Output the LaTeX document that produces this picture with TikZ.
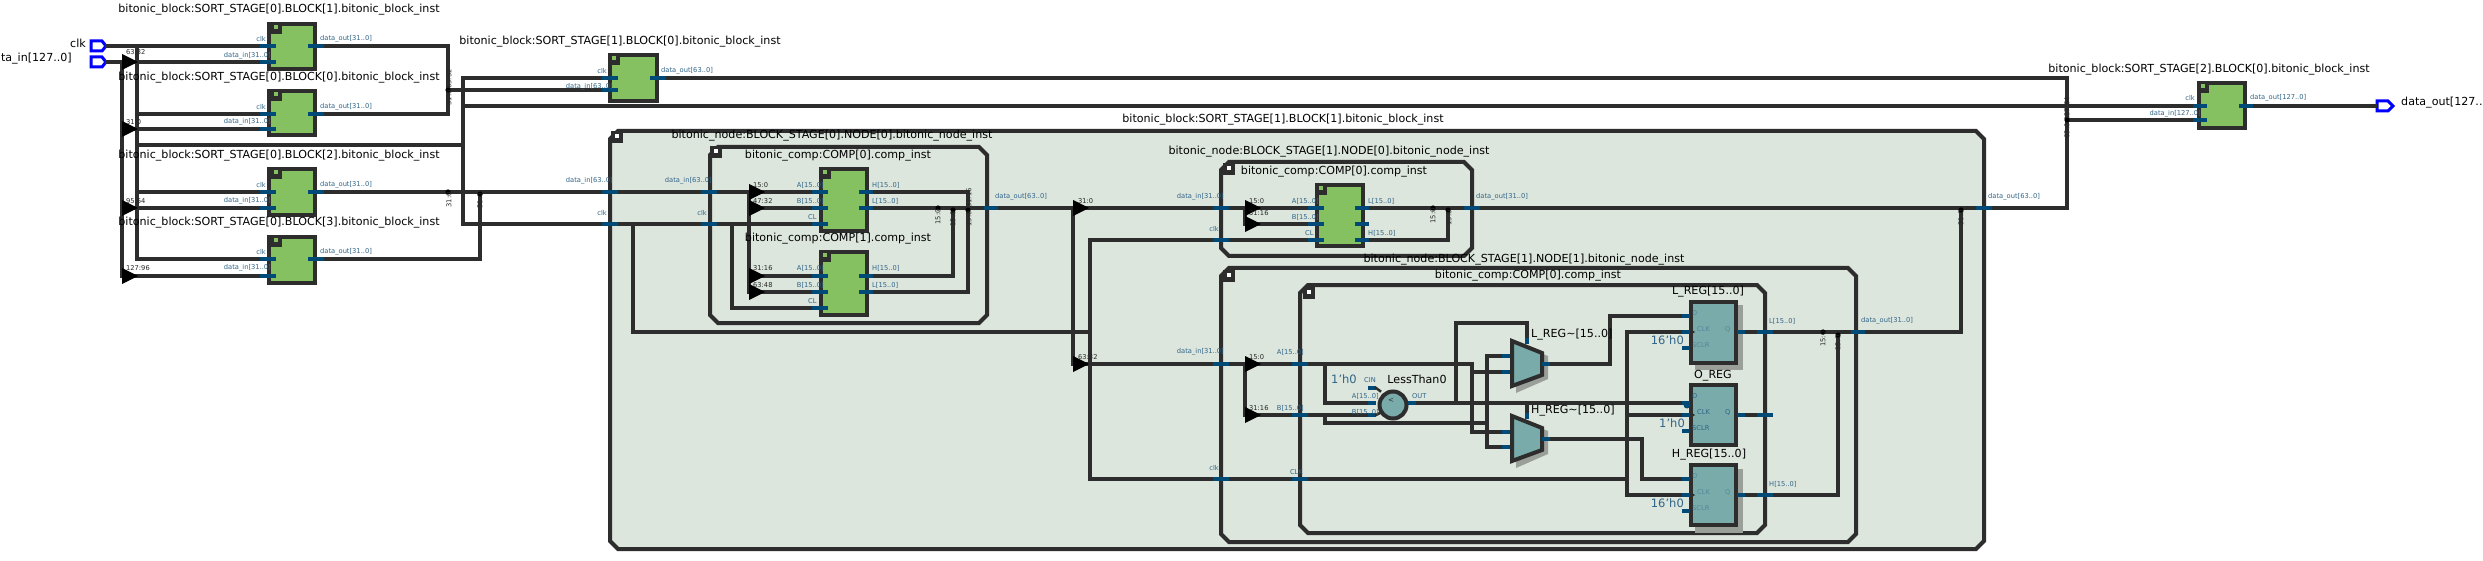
\documentclass[tikz,border=0pt]{standalone}
\usepackage{fontspec}
\setmainfont{DejaVu Sans}
\usetikzlibrary{calc}
\definecolor{wirec}{HTML}{2D2D2D}
\definecolor{stubc}{HTML}{004A77}
\definecolor{labc}{HTML}{2F6487}
\definecolor{greenc}{HTML}{85C160}
\definecolor{tealc}{HTML}{79ABAB}
\definecolor{panelc}{HTML}{DDE6DD}
\definecolor{shadowc}{HTML}{9A9F9A}
\tikzset{
  wire/.style={draw=wirec,line width=4pt,line join=miter,line cap=rect},
  frame/.style={draw=wirec,line width=4pt,line join=miter},
  portstub/.style={draw=stubc,line width=4pt},
  blockbox/.style={draw=wirec,line width=4pt,fill=greenc},
  regbox/.style={draw=wirec,line width=4pt,fill=tealc},
  pinshape/.style={draw=blue,fill=white,line width=3pt,line join=miter},
  tfont/.style={font=\fontsize{11.1}{13}\selectfont,text=black,inner sep=0pt},
  plab/.style={font=\fontsize{6.7}{8}\selectfont,text=labc,inner sep=0pt},
  klab/.style={font=\fontsize{11.5}{13}\selectfont,text=labc,inner sep=0pt},
  nlab/.style={font=\fontsize{6.7}{8}\selectfont,text=black!85,inner sep=0pt},
  rlab/.style={nlab,rotate=90},
}
\newcount\labn
\newcommand\lab[4]{\global\advance\labn by 1 \node[#1] (lab\the\labn) at (#2,#3) {#4};}
\newcommand\icon[3]{\fill[wirec] (#1,#2) rectangle ++(12,12);\fill[#3] (#1+4,#2+3) rectangle ++(4,4);}
\newcommand\panel[6]{\draw[frame,fill=#1] (#2+#6,#3) -- (#4-#6,#3) -- (#4,#3+#6) -- (#4,#5-#6) -- (#4-#6,#5) -- (#2+#6,#5) -- (#2,#5-#6) -- (#2,#3+#6) -- cycle;}
\newcommand\blk[5]{\node[#1,outer sep=0pt,minimum width=#4-#2,minimum height=#5-#3,inner sep=0pt,anchor=north west] (box#2x#3) at (#2,#3) {};}
\newcommand\hs[2]{\draw[portstub] (#1) ++(-#2,0) -- ++(2*#2,0);}
\newcommand\tri[1]{\fill[black] (#1) ++(0,-8) -- ++(16,8) -- ++(-16,8) -- cycle;}
\newcommand\dotj[1]{\fill[black] (#1) circle (2.6);}
\newcommand\ck[1]{\fill[wirec] (#1) ++(3,-4) -- ++(6,4) -- ++(-6,4) -- cycle;}
\begin{document}
\begin{tikzpicture}[x=1pt,y=-1pt]
\useasboundingbox (0,0) rectangle (2483,561);
\fill[white] (0,0) rectangle (2483,561);
% ---------- named points ----------
\foreach \n/\x/\y in {
 clkpin/107/46,datapin/107/62,
 bAclk/268/46,bAin/268/62,bAout/316/46,
 bBclk/268/114,bBin/268/129,bBout/316/114,
 bCclk/268/192,bCin/268/208,bCout/316/192,
 bDclk/268/259,bDin/268/276,bDout/316/259,
 sAclk/610/78,sAin/610/90,sAout/658/78,
 ndin/610/192,ndclk/610/224,ndout/1984/208,
 nAin/709/192,nAclk/709/224,nAout/991/208,
 cAa/820/192,cAb/820/208,cAc/820/224,cAh/866/192,cAl/866/208,
 cBa/820/276,cBb/820/292,cBc/820/308,cBh/866/276,cBl/866/292,
 nBin/1221/208,nBclk/1221/240,nBout/1472/208,
 cCa/1316/208,cCb/1316/224,cCc/1316/240,cCl/1362/208,cCm/1362/224,cCh/1362/240,
 nCin/1221/364,nCclk/1221/479,nCout/1858/332,
 cma/1300/364,cmb/1300/415,cmc/1300/479,cml/1765/332,cmq/1765/415,cmh/1765/495,
 ltcin/1372/388,lta/1372/403,ltb/1372/415,ltout/1412/403,
 mlz/1506/356,mlo/1506/372,mls/1527/341,mlq/1546/364,
 mhz/1506/432,mho/1506/447,mhs/1527/416,mhq/1546/439,
 ld/1686/316,lc/1686/332,ls/1686/348,lq/1741/332,
 od/1686/403,oc/1686/415,os/1686/431,oq/1741/415,
 hd/1686/479,hc/1686/495,hs/1686/511,hq/1741/495,
 sBclk/2200/106,sBin/2200/120,sBout/2246/106,outpin/2375/106,
 jA/448/90,jB/448/192,jC/480/194,jD/2067/120,
 jE/938/208,jF/953/210,jG/968/210,
 jH/1433/208,jI/1448/210,jJ/1823/332,jK/1838/335,jL/1961/210,
 clkbus/137/145,databus/122/62,clkmid/463/145,
 triAa/749/192,triAb/749/208,triAc/749/276,triAd/749/292,
 clkN/732/308,clkW/633/332,clkE/1090/332,
 triO/1073/208,triP/1073/364,
 triQ/1245/208,triR/1245/224,triS/1245/364,triT/1245/415,
 tapA/1325/364,tapB/1325/423,muxA/1472/372,muxB/1487/423,
 ltsel/1456/323,selT/1527/323,selB/1527/403,lqc/1610/316,hqc/1642/479,
 clkV/1627/479}
 {\coordinate (\n) at (\x,\y);}
% ---------- containers ----------
\panel{panelc}{610}{131}{1984}{549}{8}
\panel{none}{710}{147}{987}{323}{8}
\panel{none}{1221}{162}{1472}{256}{8}
\panel{none}{1221}{268}{1856}{542}{8}
\panel{none}{1300}{285}{1765}{533}{8}
\icon{611}{131}{white}\icon{710}{146}{white}\icon{1223}{163}{white}\icon{1223}{270}{white}\icon{1303}{287}{white}
% ---------- green blocks ----------
\blk{blockbox}{269}{24}{315}{69}
\blk{blockbox}{269}{91}{315}{135}
\blk{blockbox}{269}{169}{315}{215}
\blk{blockbox}{269}{237}{315}{283}
\blk{blockbox}{610}{55}{657}{101}
\blk{blockbox}{821}{169}{867}{231}
\blk{blockbox}{821}{252}{867}{315}
\blk{blockbox}{1317}{185}{1363}{246}
\blk{blockbox}{2199}{83}{2245}{128}
\icon{270}{22}{greenc}\icon{270}{89}{greenc}\icon{270}{167}{greenc}\icon{270}{235}{greenc}
\icon{608}{53}{greenc}\icon{819}{167}{greenc}\icon{819}{250}{greenc}\icon{1315}{183}{greenc}\icon{2197}{81}{greenc}
% ---------- registers ----------
\fill[shadowc] (1695,305) rectangle (1743,370);
\fill[shadowc] (1695,469) rectangle (1743,533);
\blk{regbox}{1691}{302}{1736}{363}
\blk{regbox}{1691}{385}{1736}{445}
\blk{regbox}{1691}{465}{1736}{525}
% ---------- muxes ----------
\fill[shadowc] (1516,343) -- (1548,356) -- (1548,379) -- (1516,393) -- cycle;
\fill[shadowc] (1516,418) -- (1548,431) -- (1548,454) -- (1516,468) -- cycle;
\draw[regbox,line join=miter] (1512,341) -- (1542,353) -- (1542,375) -- (1512,386) -- cycle;
\draw[regbox,line join=miter] (1512,416) -- (1542,428) -- (1542,450) -- (1512,461) -- cycle;
% ---------- comparator ----------
\node[circle,draw=wirec,line width=4pt,fill=tealc,minimum size=27pt,inner sep=0pt] (lessthan) at (1393,405) {};
\lab{font=\fontsize{7}{8}\selectfont,text=wirec,inner sep=0pt}{1391}{400}{<}
% ---------- pins ----------
\draw[pinshape] (91,41) -- (102,41) -- (106,46) -- (102,51) -- (91,51) -- cycle;
\draw[pinshape] (91,57) -- (102,57) -- (106,62) -- (102,67) -- (91,67) -- cycle;
\draw[pinshape] (2377,101) -- (2388,101) -- (2393,106) -- (2388,111) -- (2377,111) -- cycle;
% ---------- wires: top level ----------
\draw[wire] (clkpin) -- (bAclk);
\draw[wire] (clkbus |- bAclk) -- (clkbus |- bDclk) -- (bDclk);
\draw[wire] (clkbus |- bBclk) -- (bBclk);
\draw[wire] (clkbus |- bCclk) -- (bCclk);
\draw[wire] (clkbus) -- (clkmid);
\draw[wire] (clkmid |- sAclk) -- (clkmid |- ndclk);
\draw[wire] (clkmid |- sAclk) -- (sAclk);
\draw[wire] (clkmid |- sBclk) -- (sBclk);
\draw[wire] (clkmid |- ndclk) -- (cAc);
\draw[wire] (datapin) -- (bAin);
\draw[wire] (databus) -- (databus |- bDin);
\draw[wire] (databus |- bBin) -- (bBin);
\draw[wire] (databus |- bCin) -- (bCin);
\draw[wire] (databus |- bDin) -- (bDin);
\draw[wire] (bAout) -| (jA);
\draw[wire] (bBout) -| (jA);
\draw[wire] (jA) -- (sAin);
\draw[wire] (bCout) -- (cAa);
\draw[wire] (bDout) -| (jC);
\draw[wire] (sAout) -| (jD);
\draw[wire] (ndout) -| (jD);
\draw[wire] (jD) -- (sBin);
\draw[wire] (sBout) -- (outpin);
% ---------- wires: node 0 ----------
\draw[wire] (triAa) -- (triAd) -- (cBb);
\draw[wire] (triAb) -- (cAb);
\draw[wire] (triAc) -- (cBa);
\draw[wire] (clkN |- ndclk) -- (clkN) -- (cBc);
\draw[wire] (clkW |- ndclk) -- (clkW) -- (clkE);
\draw[wire] (cAh) -| (jG);
\draw[wire] (cAl) -- (cCa);
\draw[wire] (cBh) -| (jF);
\draw[wire] (cBl) -| (jG);
% ---------- wires: node 1 ----------
\draw[wire] (triO) -- (triP) -- (cma);
\draw[wire] (triQ) -- (triR) -- (cCb);
\draw[wire] (clkE |- nBclk) -- (cCc);
\draw[wire] (clkE |- nBclk) -- (clkE |- nCclk) -- (clkV);
\draw[wire] (cCl) -- (ndout);
\draw[wire] (cCh) -| (jI);
% ---------- wires: node 2 ----------
\draw[wire] (triS) -- (triT) -- (ltb);
\draw[wire] (tapA) -- (tapA |- lta) -- (lta);
\draw[wire] (tapA |- ltb) -- (tapB) -- (muxB);
\draw[wire] (cma) -| (muxA) -- (mlo);
\draw[wire] (muxA) -- (muxA |- mhz) -- (mhz);
\draw[wire] (muxB |- mlz) -- (muxB |- mho) -- (mho);
\draw[wire] (muxB |- mlz) -- (mlz);
\draw[wire] (ltout) -- (od);
\draw[wire] (ltsel |- ltout) -- (ltsel) -- (selT) -- (mls);
\draw[wire] (selB) -- (mhs);
\draw[wire] (mlq) -| (lqc) -- (ld);
\draw[wire] (mhq) -| (hqc) -- (hd);
\draw[wire] (clkV |- lc) -- (clkV |- hc) -- (hc);
\draw[wire] (clkV |- lc) -- (lc);
\draw[wire] (clkV |- oc) -- (oc);
\draw[wire] (lq) -- (jL |- lq) -- (jL);
\draw[wire] (oq) -- (cmq);
\draw[wire] (hq) -| (jK);
% ---------- triangles and joints ----------
\tri{databus}\tri{databus |- bBin}\tri{databus |- bCin}\tri{databus |- bDin}
\tri{triAa}\tri{triAb}\tri{triAc}\tri{triAd}\tri{triO}\tri{triP}\tri{triQ}\tri{triR}\tri{triS}\tri{triT}
\foreach \p in {jA,jB,jC,jD,jE,jF,jG,jH,jI,jJ,jK,jL}{\dotj{\p}}
\fill[stubc] (1687,405) circle (3.5);
\ck{lc}\ck{oc}\ck{hc}
% ---------- port stubs ----------
\foreach \p in {bAclk,bAin,bBclk,bBin,bCclk,bCin,bDclk,bDin,bAout,bBout,bCout,bDout,sAclk,sAin,sAout,ndin,ndclk,nAin,nAclk,cAa,cAb,cAc,cBa,cBb,cBc,nBin,nBclk,cCa,cCb,cCc,nCin,nCclk,cma,cmb,cmc,cml,cmq,cmh,nBout,ndout}{\hs{\p}{8}}
\foreach \p in {nAout,cCl,cCm,cCh,cAh,cAl,cBh,cBl,sBclk,sBin,sBout,nCout}{\hs{\p}{7}}
\foreach \p in {ltcin,lta,ltb,ld,lc,ls,od,oc,os,hd,hc,hs,mlz,mlo,mhz,mho,lq,oq,hq,ltout,mlq,mhq}{\hs{\p}{4}}
\draw[portstub] (mls) ++(0,-3) -- ++(0,6);
\draw[portstub] (mhs) ++(0,-3) -- ++(0,6);
\draw[wire,line width=2.5pt] (ltcin) ++(4,0) -- ++(4,3);
\draw[wire,line width=2.5pt] (ltb) ++(4,0) -- ++(4,-2);
% ---------- titles ----------
\lab{tfont}{279}{10}{bitonic\_block:SORT\_STAGE[0].BLOCK[1].bitonic\_block\_inst}
\lab{tfont}{279}{78}{bitonic\_block:SORT\_STAGE[0].BLOCK[0].bitonic\_block\_inst}
\lab{tfont}{279}{156}{bitonic\_block:SORT\_STAGE[0].BLOCK[2].bitonic\_block\_inst}
\lab{tfont}{279}{223}{bitonic\_block:SORT\_STAGE[0].BLOCK[3].bitonic\_block\_inst}
\lab{tfont}{620}{42}{bitonic\_block:SORT\_STAGE[1].BLOCK[0].bitonic\_block\_inst}
\lab{tfont}{2209}{70}{bitonic\_block:SORT\_STAGE[2].BLOCK[0].bitonic\_block\_inst}
\lab{tfont}{1283}{120}{bitonic\_block:SORT\_STAGE[1].BLOCK[1].bitonic\_block\_inst}
\lab{tfont}{832}{136}{bitonic\_node:BLOCK\_STAGE[0].NODE[0].bitonic\_node\_inst}
\lab{tfont}{838}{156}{bitonic\_comp:COMP[0].comp\_inst}
\lab{tfont}{838}{239}{bitonic\_comp:COMP[1].comp\_inst}
\lab{tfont}{1329}{152}{bitonic\_node:BLOCK\_STAGE[1].NODE[0].bitonic\_node\_inst}
\lab{tfont}{1334}{172}{bitonic\_comp:COMP[0].comp\_inst}
\lab{tfont}{1524}{260}{bitonic\_node:BLOCK\_STAGE[1].NODE[1].bitonic\_node\_inst}
\lab{tfont}{1528}{276}{bitonic\_comp:COMP[0].comp\_inst}
\lab{tfont,anchor=east}{86}{43}{clk}
\lab{tfont,anchor=east}{72}{59}{data\_in[127..0]}
\lab{tfont,anchor=west}{2401}{103}{data\_out[127..0]}
\lab{tfont}{1417}{379}{LessThan0}
\lab{tfont,anchor=west}{1531}{335}{L\_REG\textasciitilde[15..0]}
\lab{tfont,anchor=west}{1531}{411}{H\_REG\textasciitilde[15..0]}
\lab{tfont}{1708}{292}{L\_REG[15..0]}
\lab{tfont}{1713}{376}{O\_REG}
\lab{tfont}{1709}{455}{H\_REG[15..0]}
% ---------- port labels ----------
\foreach \y in {39,107,185,252}{\lab{plab,anchor=east}{266}{\y}{clk}}
\foreach \y in {56,122,201,268}{\lab{plab,anchor=east}{271}{\y}{data\_in[31..0]}}
\foreach \y in {39,107,185,252}{\lab{plab,anchor=west}{320}{\y}{data\_out[31..0]}}
\lab{plab,anchor=east}{607}{71}{clk}
\lab{plab,anchor=east}{613}{87}{data\_in[63..0]}
\lab{plab,anchor=west}{661}{71}{data\_out[63..0]}
\lab{plab,anchor=east}{613}{181}{data\_in[63..0]}
\lab{plab,anchor=east}{607}{213}{clk}
\lab{plab,anchor=east}{712}{181}{data\_in[63..0]}
\lab{plab,anchor=east}{707}{213}{clk}
\lab{plab,anchor=east}{824}{185}{A[15..0]}
\lab{plab,anchor=east}{824}{201}{B[15..0]}
\lab{plab,anchor=west}{808}{217}{CL}
\lab{plab,anchor=east}{824}{268}{A[15..0]}
\lab{plab,anchor=east}{824}{285}{B[15..0]}
\lab{plab,anchor=west}{808}{301}{CL}
\lab{plab,anchor=west}{872}{185}{H[15..0]}
\lab{plab,anchor=west}{872}{201}{L[15..0]}
\lab{plab,anchor=west}{872}{268}{H[15..0]}
\lab{plab,anchor=west}{872}{285}{L[15..0]}
\lab{plab,anchor=west}{995}{197}{data\_out[63..0]}
\lab{plab,anchor=east}{1224}{197}{data\_in[31..0]}
\lab{plab,anchor=east}{1219}{229}{clk}
\lab{plab,anchor=east}{1319}{201}{A[15..0]}
\lab{plab,anchor=east}{1319}{217}{B[15..0]}
\lab{plab,anchor=west}{1305}{233}{CL}
\lab{plab,anchor=west}{1368}{201}{L[15..0]}
\lab{plab,anchor=west}{1368}{233}{H[15..0]}
\lab{plab,anchor=west}{1476}{197}{data\_out[31..0]}
\lab{plab,anchor=east}{1224}{352}{data\_in[31..0]}
\lab{plab,anchor=east}{1219}{468}{clk}
\lab{plab,anchor=east}{1304}{352}{A[15..0]}
\lab{plab,anchor=east}{1304}{408}{B[15..0]}
\lab{plab,anchor=east}{1303}{472}{CLK}
\lab{plab}{1370}{380}{CIN}
\lab{plab,anchor=east}{1379}{396}{A[15..0]}
\lab{plab,anchor=east}{1379}{412}{B[15..0]}
\lab{plab,anchor=west}{1412}{396}{OUT}
\lab{plab,anchor=west}{1769}{321}{L[15..0]}
\lab{plab,anchor=west}{1769}{484}{H[15..0]}
\lab{plab,anchor=west}{1861}{321}{data\_out[31..0]}
\lab{plab,anchor=west}{1988}{197}{data\_out[63..0]}
\lab{plab,anchor=east}{2195}{98}{clk}
\lab{plab,anchor=east}{2201}{114}{data\_in[127..0]}
\lab{plab,anchor=west}{2250}{98}{data\_out[127..0]}
% register pin labels
\foreach \y/\q in {300/0.5,383/1,463/0.5}{
 \lab{plab,anchor=west,opacity=\q}{1692}{\y+13}{D}
 \lab{plab,anchor=west,opacity=\q}{1697}{\y+29}{CLK}
 \lab{plab,anchor=west,opacity=\q}{1725}{\y+29}{Q}
 \lab{plab,anchor=west,opacity=\q}{1692}{\y+45}{SCLR}
}
\lab{klab}{1344}{379}{1'h0}
\lab{klab,anchor=east}{1684}{340}{16'h0}
\lab{klab,anchor=east}{1685}{423}{1'h0}
\lab{klab,anchor=east}{1684}{503}{16'h0}
% ---------- bit ranges ----------
\lab{nlab,anchor=west}{126}{52}{63:32}
\lab{nlab,anchor=west}{126}{122}{31:0}
\lab{nlab,anchor=west}{126}{201}{95:64}
\lab{nlab,anchor=west}{126}{268}{127:96}
\lab{nlab,anchor=west}{753}{185}{15:0}
\lab{nlab,anchor=west}{753}{201}{47:32}
\lab{nlab,anchor=west}{753}{268}{31:16}
\lab{nlab,anchor=west}{753}{285}{63:48}
\lab{nlab,anchor=west}{1078}{201}{31:0}
\lab{nlab,anchor=west}{1078}{357}{63:32}
\lab{nlab,anchor=west}{1249}{201}{15:0}
\lab{nlab,anchor=west}{1249}{213}{31:16}
\lab{nlab,anchor=west}{1249}{357}{15:0}
\lab{nlab,anchor=west}{1249}{408}{31:16}
\lab{rlab}{449}{79}{63:32}
\lab{rlab}{449}{98}{31:0}
\lab{rlab}{449}{200}{31:0}
\lab{rlab}{480}{201}{31:0}
\lab{rlab}{2067}{109}{127:64}
\lab{rlab}{2067}{131}{63:0}
\lab{rlab}{938}{217}{15:0}
\lab{rlab}{953}{219}{15:0}
\lab{rlab}{969}{219}{15:0}
\lab{rlab}{969}{198}{31:16}
\lab{rlab}{1433}{216}{15:0}
\lab{rlab}{1449}{218}{15:0}
\lab{rlab}{1823}{339}{15:0}
\lab{rlab}{1838}{343}{15:0}
\lab{rlab}{1961}{218}{31:0}
\end{tikzpicture}
\end{document}
